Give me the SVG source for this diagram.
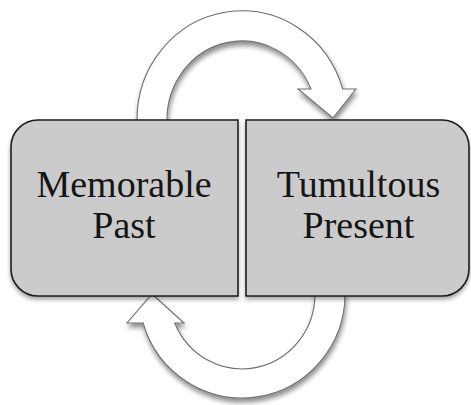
<svg xmlns="http://www.w3.org/2000/svg" width="471" height="405" viewBox="0 0 471 405">
  <style>
    .box { fill: #cbcbcb; stroke: #1e1e1e; stroke-width: 1.6; }
    .label { font-family: "Liberation Serif", "Times New Roman", serif; font-size: 38px; fill: #151515; text-anchor: middle; }
    .cycle { fill: #ffffff; stroke: #6e6e6e; stroke-width: 1.1; stroke-linejoin: miter; }
  </style>
  <defs>
    <filter id="softShadow" x="-20%" y="-20%" width="140%" height="150%">
      <feGaussianBlur in="SourceAlpha" stdDeviation="2.5"/>
      <feOffset dx="1" dy="4" result="blur"/>
      <feComponentTransfer><feFuncA type="linear" slope="0.45"/></feComponentTransfer>
      <feMerge><feMergeNode/><feMergeNode in="SourceGraphic"/></feMerge>
    </filter>
    <filter id="boxShadow" x="-10%" y="-10%" width="120%" height="125%">
      <feGaussianBlur in="SourceAlpha" stdDeviation="2"/>
      <feOffset dx="0" dy="3"/>
      <feComponentTransfer><feFuncA type="linear" slope="0.35"/></feComponentTransfer>
      <feMerge><feMergeNode/><feMergeNode in="SourceGraphic"/></feMerge>
    </filter>
  </defs>

  <rect width="471" height="405" fill="#ffffff"/>

  <!-- curved cycle arrows between the two states -->
  <g id="connectors" filter="url(#softShadow)">
    <path id="arrow-past-to-present" class="cycle"
          d="M 137 121 A 105 109 0 0 1 342.7 89 L 356 89 L 333 118 L 298 89 L 311 89 A 75 79 0 0 0 167 121 Z"/>
    <path id="arrow-present-to-past" class="cycle"
          d="M 315 293 A 73 75 0 0 1 174.7 323 L 184 323 L 152 294 L 127 323 L 143.1 323 A 103 104 0 0 0 345 293 Z"/>
  </g>

  <g id="memorable-past">
    <path class="box" filter="url(#boxShadow)" d="M 38 120 H 238 V 296 H 38 A 27 27 0 0 1 11 269 V 147 A 27 27 0 0 1 38 120 Z"/>
    <text class="label" x="124" y="197">Memorable</text>
    <text class="label" x="124" y="238">Past</text>
  </g>

  <g id="tumultous-present">
    <path class="box" filter="url(#boxShadow)" d="M 246 120 H 442 A 27 27 0 0 1 469 147 V 269 A 27 27 0 0 1 442 296 H 246 Z"/>
    <text class="label" x="358.5" y="197">Tumultous</text>
    <text class="label" x="358.5" y="238">Present</text>
  </g>
</svg>
